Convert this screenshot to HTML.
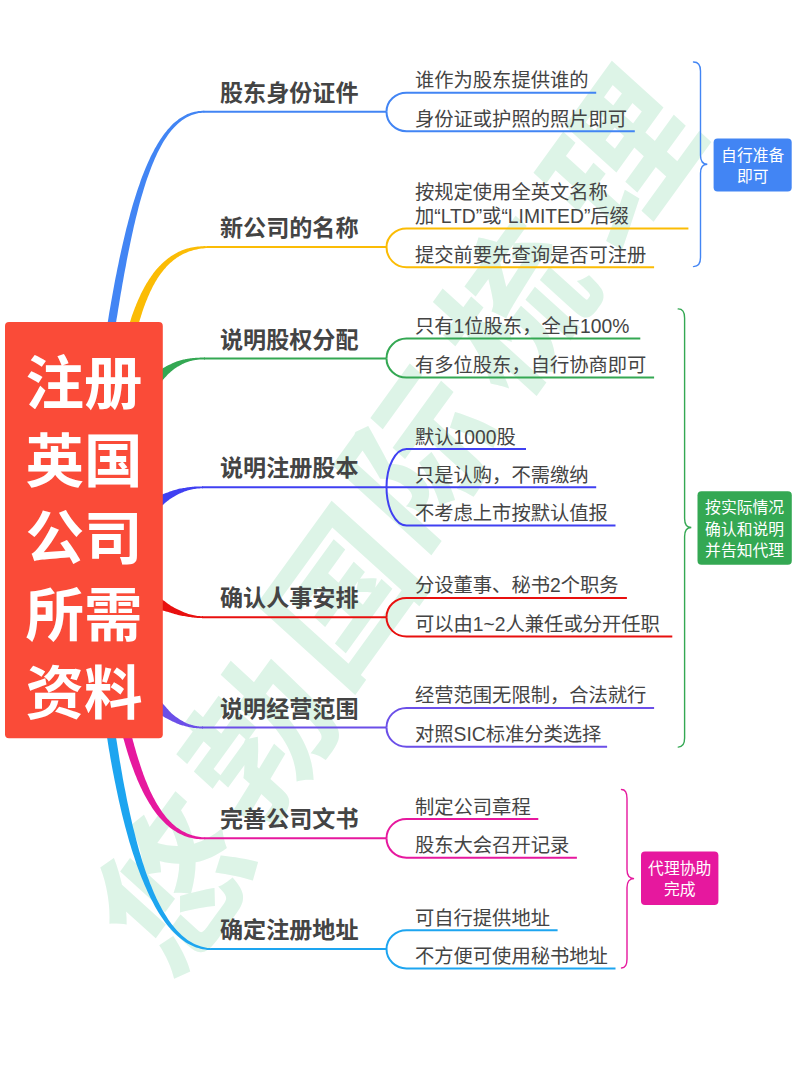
<!DOCTYPE html>
<html lang="zh-CN">
<head>
<meta charset="utf-8">
<title>注册英国公司所需资料</title>
<style>
html,body{margin:0;padding:0;background:#ffffff;}
body{width:800px;height:1069px;position:relative;overflow:hidden;font-family:"Liberation Sans","Noto Sans CJK SC",sans-serif;}
svg{position:absolute;left:0;top:0;display:block;}
.t{position:absolute;white-space:nowrap;color:#444444;font-family:"Liberation Sans","Noto Sans CJK SC",sans-serif;}
.w{color:#ffffff;}
</style>
</head>
<body>
<svg width="800" height="1069" viewBox="0 0 800 1069">
<g font-family="'Liberation Sans','Noto Sans CJK SC',sans-serif" font-size="142" font-weight="bold" text-anchor="middle" fill="#DDF4E7">
<text transform="translate(176.0 885.0) scale(1 1.12) rotate(-51)" x="0" y="52">悠</text>
<text transform="translate(260.0 739.0) scale(1 1.12) rotate(-51)" x="0" y="52">勃</text>
<text transform="translate(343.0 597.0) scale(1 1.12) rotate(-51)" x="0" y="52">国</text>
<text transform="translate(420.0 456.0) scale(1 1.12) rotate(-51)" x="0" y="52">际</text>
<text transform="translate(517.0 308.0) scale(1 1.12) rotate(-51)" x="0" y="52">梳</text>
<text transform="translate(622.0 158.0) scale(1 1.12) rotate(-51)" x="0" y="52">理</text>
</g>
<path fill="#4285F4" d="M111.7 352.0L112.5 346.4L113.3 341.0L114.1 335.5L114.9 330.2L115.7 324.8L116.5 319.6L117.4 314.4L118.2 309.2L119.1 304.1L119.9 299.1L120.7 294.1L121.6 289.2L122.4 284.3L123.3 279.5L124.1 274.7L125.0 270.0L125.9 265.4L126.7 260.8L127.6 256.2L128.5 251.8L129.4 247.4L130.3 243.0L131.2 238.8L132.1 234.5L133.0 230.4L133.9 226.3L134.9 222.3L135.8 218.3L136.8 214.4L137.8 210.6L138.7 206.8L139.7 203.1L140.7 199.5L141.7 195.9L142.8 192.4L143.8 189.0L144.9 185.6L145.9 182.3L147.0 179.1L148.1 176.0L149.2 172.9L150.3 169.9L151.4 166.9L152.6 164.1L153.8 161.3L154.9 158.6L156.1 155.9L157.3 153.3L158.6 150.8L159.8 148.4L161.1 146.1L162.3 143.8L163.6 141.6L164.9 139.5L166.3 137.5L167.6 135.5L169.0 133.6L170.4 131.8L171.8 130.1L173.2 128.4L174.6 126.9L176.1 125.4L177.6 124.0L179.0 122.7L180.6 121.4L182.1 120.3L183.7 119.2L185.2 118.2L186.9 117.2L188.5 116.4L190.1 115.7L191.8 115.0L193.5 114.4L195.2 113.9L197.0 113.5L198.8 113.1L200.6 112.9L202.4 112.7L204.3 112.6L204.3 110.8L202.3 110.8L200.4 110.9L198.5 111.1L196.6 111.4L194.7 111.7L192.9 112.2L191.0 112.8L189.2 113.4L187.4 114.1L185.7 115.0L183.9 115.9L182.2 116.9L180.5 117.9L178.8 119.1L177.2 120.4L175.5 121.7L173.9 123.1L172.3 124.6L170.7 126.2L169.2 127.9L167.7 129.6L166.2 131.4L164.7 133.3L163.2 135.3L161.7 137.4L160.3 139.5L158.9 141.7L157.5 144.0L156.1 146.4L154.7 148.8L153.4 151.4L152.0 154.0L150.7 156.6L149.4 159.4L148.1 162.2L146.9 165.1L145.6 168.0L144.4 171.0L143.2 174.1L141.9 177.3L140.7 180.5L139.6 183.9L138.4 187.2L137.2 190.7L136.1 194.2L135.0 197.8L133.8 201.4L132.7 205.1L131.6 208.9L130.5 212.8L129.5 216.7L128.4 220.7L127.4 224.7L126.3 228.8L125.3 233.0L124.3 237.2L123.3 241.5L122.3 245.8L121.3 250.3L120.3 254.7L119.3 259.3L118.4 263.9L117.4 268.5L116.5 273.2L115.5 278.0L114.6 282.8L113.7 287.7L112.8 292.7L111.9 297.7L111.0 302.7L110.1 307.9L109.2 313.0L108.4 318.3L107.5 323.5L106.6 328.9L105.7 334.2L104.9 339.7L104.0 345.2L103.1 350.7Z"/>
<path fill="#FBBC05" d="M134.4 340.0L134.9 338.0L135.4 336.1L135.8 334.2L136.3 332.3L136.8 330.4L137.3 328.5L137.9 326.6L138.4 324.8L138.9 322.9L139.5 321.1L140.0 319.3L140.6 317.5L141.1 315.7L141.7 314.0L142.2 312.2L142.8 310.5L143.4 308.8L144.0 307.1L144.6 305.4L145.2 303.7L145.9 302.1L146.5 300.5L147.2 298.9L147.8 297.3L148.5 295.7L149.2 294.2L149.9 292.6L150.6 291.1L151.3 289.7L152.0 288.2L152.7 286.7L153.5 285.3L154.3 283.9L155.0 282.6L155.8 281.2L156.6 279.9L157.4 278.6L158.3 277.3L159.1 276.0L160.0 274.8L160.9 273.6L161.7 272.4L162.7 271.2L163.6 270.1L164.5 269.0L165.5 267.9L166.4 266.8L167.4 265.8L168.4 264.8L169.4 263.8L170.5 262.8L171.5 261.9L172.6 261.0L173.7 260.1L174.8 259.3L175.9 258.4L177.0 257.6L178.2 256.9L179.4 256.1L180.6 255.4L181.8 254.8L183.1 254.1L184.3 253.5L185.6 252.9L186.9 252.4L188.3 251.8L189.6 251.3L191.0 250.9L192.4 250.4L193.8 250.0L195.3 249.7L196.8 249.4L198.3 249.1L199.8 248.8L201.3 248.6L202.9 248.4L204.5 248.2L206.1 248.1L207.8 248.0L207.8 246.2L206.1 246.2L204.4 246.1L202.8 246.2L201.1 246.2L199.5 246.4L197.9 246.5L196.3 246.7L194.7 246.9L193.2 247.2L191.7 247.5L190.2 247.8L188.7 248.2L187.2 248.6L185.7 249.1L184.3 249.5L182.9 250.1L181.5 250.6L180.1 251.2L178.7 251.8L177.4 252.5L176.1 253.2L174.7 253.9L173.5 254.7L172.2 255.5L170.9 256.3L169.7 257.2L168.5 258.1L167.3 259.0L166.1 260.0L164.9 260.9L163.7 262.0L162.6 263.0L161.5 264.1L160.4 265.2L159.3 266.3L158.2 267.5L157.2 268.6L156.1 269.8L155.1 271.1L154.1 272.3L153.1 273.6L152.2 275.0L151.2 276.3L150.3 277.7L149.3 279.0L148.4 280.4L147.5 281.9L146.6 283.3L145.8 284.8L144.9 286.3L144.1 287.8L143.2 289.4L142.4 290.9L141.6 292.5L140.8 294.1L140.1 295.7L139.3 297.4L138.6 299.1L137.8 300.7L137.1 302.4L136.4 304.1L135.7 305.9L135.0 307.6L134.3 309.4L133.6 311.2L133.0 313.0L132.3 314.8L131.7 316.6L131.1 318.5L130.5 320.4L129.9 322.2L129.3 324.1L128.7 326.0L128.2 327.9L127.6 329.9L127.1 331.8L126.5 333.8L126.0 335.7L125.4 337.7Z"/>
<path fill="#34A853" d="M148.2 400.2L149.0 398.9L149.9 397.6L150.8 396.3L151.7 395.1L152.6 393.9L153.4 392.7L154.3 391.6L155.2 390.5L155.9 389.3L156.7 388.2L157.4 387.1L158.2 386.0L159.0 385.0L159.7 383.9L160.5 382.9L161.2 382.0L162.0 381.0L162.7 380.1L163.5 379.2L164.3 378.3L165.0 377.5L165.8 376.7L166.5 375.9L167.3 375.1L168.0 374.3L168.8 373.6L169.5 372.9L170.3 372.2L171.0 371.5L171.8 370.9L172.6 370.3L173.3 369.7L174.1 369.1L174.9 368.6L175.6 368.0L176.4 367.5L177.1 367.1L177.9 366.6L178.7 366.2L179.4 365.7L180.2 365.3L180.9 364.9L181.6 364.5L182.4 364.1L183.1 363.8L183.8 363.4L184.6 363.1L185.3 362.8L186.0 362.5L186.7 362.2L187.5 362.0L188.2 361.7L188.9 361.5L189.6 361.3L190.3 361.1L191.0 360.9L191.7 360.8L192.4 360.6L193.0 360.5L193.7 360.3L194.4 360.2L195.0 360.1L195.7 360.0L196.3 359.9L197.0 359.8L197.6 359.8L198.2 359.7L198.8 359.6L199.4 359.6L200.0 359.5L200.6 359.5L201.2 359.5L201.8 359.5L202.3 359.5L202.9 359.4L203.4 359.4L204.0 359.4L204.5 359.4L205.0 359.4L205.0 357.6L204.5 357.6L204.0 357.6L203.4 357.6L202.9 357.6L202.3 357.6L201.7 357.6L201.1 357.6L200.5 357.6L199.9 357.6L199.3 357.7L198.7 357.7L198.1 357.7L197.4 357.7L196.8 357.8L196.1 357.8L195.5 357.8L194.8 357.9L194.1 358.0L193.4 358.0L192.7 358.1L192.0 358.2L191.2 358.2L190.5 358.3L189.8 358.5L189.0 358.6L188.2 358.7L187.5 358.8L186.7 359.0L185.9 359.1L185.1 359.3L184.3 359.5L183.4 359.6L182.6 359.8L181.8 360.0L180.9 360.2L180.0 360.4L179.2 360.7L178.3 361.0L177.4 361.3L176.5 361.6L175.6 361.9L174.7 362.3L173.8 362.7L172.9 363.1L172.0 363.5L171.0 363.9L170.1 364.4L169.2 364.8L168.2 365.3L167.2 365.8L166.2 366.3L165.2 366.9L164.2 367.5L163.2 368.1L162.2 368.7L161.2 369.3L160.2 370.0L159.1 370.7L158.1 371.4L157.0 372.2L156.0 373.0L154.9 373.8L153.9 374.7L152.8 375.5L151.8 376.4L150.7 377.4L149.6 378.4L148.6 379.4L147.5 380.4L146.4 381.5L145.3 382.6L144.3 383.8L143.3 385.0L142.4 386.3L141.4 387.7L140.4 389.0L139.5 390.4L138.5 391.8L137.5 393.3Z"/>
<path fill="#4040F2" d="M141.4 526.6L141.9 526.1L142.4 525.5L142.9 524.9L143.4 524.3L144.0 523.8L144.5 523.2L145.1 522.6L145.6 522.0L146.2 521.4L146.7 520.8L147.3 520.3L147.9 519.7L148.4 519.1L149.0 518.5L149.6 517.9L150.2 517.3L150.8 516.7L151.4 516.2L152.1 515.6L152.7 515.0L153.3 514.4L154.0 513.9L154.6 513.2L155.2 512.6L155.8 511.9L156.4 511.3L157.0 510.7L157.6 510.0L158.2 509.4L158.8 508.7L159.5 508.1L160.1 507.5L160.8 506.8L161.4 506.2L162.1 505.6L162.8 505.0L163.5 504.4L164.2 503.8L164.9 503.1L165.6 502.5L166.3 501.9L167.1 501.3L167.8 500.7L168.6 500.2L169.3 499.6L170.1 499.0L170.9 498.4L171.7 497.9L172.5 497.4L173.4 496.9L174.2 496.4L175.1 495.9L175.9 495.4L176.8 494.9L177.7 494.5L178.6 494.1L179.6 493.6L180.5 493.2L181.4 492.8L182.4 492.4L183.4 492.0L184.3 491.6L185.3 491.2L186.3 490.9L187.4 490.5L188.4 490.2L189.4 490.0L190.5 489.7L191.6 489.5L192.7 489.2L193.8 489.0L194.9 488.9L196.0 488.7L197.1 488.6L198.3 488.4L199.5 488.4L200.6 488.3L201.8 488.3L203.0 488.2L203.0 486.4L201.8 486.4L200.6 486.4L199.4 486.4L198.2 486.4L197.0 486.5L195.8 486.6L194.6 486.6L193.5 486.7L192.3 486.8L191.2 486.9L190.0 487.1L188.9 487.2L187.8 487.3L186.7 487.5L185.6 487.7L184.5 487.9L183.4 488.0L182.3 488.2L181.2 488.4L180.1 488.6L179.0 488.8L178.0 489.1L176.9 489.4L175.9 489.7L174.9 490.0L173.8 490.3L172.8 490.6L171.8 490.9L170.8 491.3L169.8 491.6L168.8 492.0L167.8 492.4L166.8 492.7L165.8 493.1L164.8 493.4L163.9 493.8L162.9 494.2L161.9 494.6L161.0 495.1L160.0 495.5L159.1 495.9L158.2 496.4L157.3 496.9L156.4 497.3L155.5 497.8L154.6 498.3L153.7 498.8L152.8 499.3L152.0 499.8L151.1 500.4L150.3 500.9L149.4 501.4L148.6 502.0L147.8 502.5L147.0 503.1L146.2 503.6L145.4 504.2L144.7 504.8L144.0 505.5L143.3 506.1L142.6 506.8L141.9 507.4L141.3 508.1L140.6 508.7L139.9 509.3L139.3 510.0L138.7 510.6L138.0 511.3L137.4 511.9L136.8 512.5L136.2 513.2L135.6 513.8L135.0 514.4L134.5 515.0L133.9 515.7L133.3 516.3L132.8 516.9L132.2 517.5L131.7 518.1Z"/>
<path fill="#E8100F" d="M125.9 587.2L126.3 587.7L126.7 588.1L127.1 588.6L127.5 589.1L128.0 589.5L128.5 590.0L129.0 590.5L129.5 591.0L130.0 591.5L130.6 592.0L131.2 592.6L131.8 593.1L132.4 593.6L133.1 594.2L133.7 594.7L134.4 595.3L135.1 595.8L135.8 596.4L136.6 597.0L137.3 597.6L138.1 598.1L138.9 598.7L139.7 599.3L140.5 599.9L141.4 600.5L142.2 601.1L143.1 601.7L144.0 602.3L144.9 602.9L145.8 603.6L146.8 604.1L147.8 604.6L148.9 605.1L149.9 605.6L151.0 606.1L152.1 606.5L153.2 607.0L154.3 607.5L155.4 607.9L156.5 608.4L157.7 608.8L158.8 609.2L160.0 609.7L161.1 610.1L162.3 610.4L163.5 610.8L164.7 611.1L165.9 611.5L167.2 611.8L168.4 612.1L169.6 612.4L170.8 612.8L172.0 613.2L173.2 613.5L174.4 613.9L175.6 614.2L176.8 614.6L178.0 614.9L179.2 615.2L180.4 615.4L181.6 615.7L182.8 615.9L184.1 616.1L185.3 616.3L186.5 616.6L187.7 616.8L188.9 617.0L190.1 617.1L191.3 617.3L192.5 617.5L193.6 617.6L194.8 617.7L196.0 617.8L197.2 617.9L198.4 618.0L199.5 618.1L200.7 618.1L201.8 618.1L203.0 618.1L203.0 616.3L201.9 616.2L200.8 616.2L199.6 616.1L198.5 616.0L197.4 615.9L196.3 615.7L195.1 615.5L194.0 615.3L192.9 615.1L191.7 614.8L190.6 614.5L189.5 614.2L188.4 613.9L187.2 613.5L186.1 613.1L185.0 612.7L183.9 612.3L182.8 611.8L181.7 611.3L180.7 610.8L179.6 610.3L178.5 609.8L177.4 609.3L176.3 608.8L175.3 608.3L174.2 607.7L173.2 607.1L172.1 606.6L171.1 606.0L170.1 605.3L169.2 604.6L168.2 603.9L167.3 603.2L166.3 602.4L165.4 601.7L164.5 601.0L163.5 600.4L162.6 599.7L161.7 599.0L160.8 598.3L159.9 597.6L159.0 597.0L158.2 596.3L157.3 595.6L156.5 594.9L155.7 594.2L154.8 593.5L154.0 592.9L153.2 592.3L152.4 591.7L151.5 591.1L150.7 590.6L149.9 590.0L149.1 589.5L148.4 588.9L147.6 588.4L146.9 587.9L146.2 587.3L145.5 586.8L144.8 586.3L144.2 585.8L143.5 585.3L142.9 584.8L142.3 584.3L141.7 583.8L141.2 583.3L140.6 582.9L140.1 582.4L139.7 582.0L139.2 581.6L138.8 581.2L138.4 580.8L138.0 580.4L137.6 580.1L137.3 579.7L137.0 579.4L136.8 579.2L136.5 578.9L136.3 578.7Z"/>
<path fill="#6B4FE8" d="M139.2 695.4L140.2 696.7L141.2 698.0L142.3 699.3L143.3 700.5L144.4 701.7L145.4 702.9L146.6 703.9L147.7 704.9L148.8 705.9L149.9 706.9L151.0 707.8L152.1 708.8L153.2 709.6L154.3 710.5L155.4 711.3L156.5 712.1L157.5 712.9L158.6 713.6L159.6 714.4L160.7 715.0L161.7 715.7L162.8 716.3L163.8 716.8L164.8 717.4L165.9 717.9L166.9 718.5L167.9 718.9L168.8 719.5L169.7 720.0L170.7 720.5L171.6 720.9L172.5 721.4L173.4 721.8L174.2 722.2L175.1 722.6L176.0 723.0L176.8 723.4L177.7 723.8L178.5 724.1L179.3 724.4L180.1 724.7L180.9 724.9L181.7 725.2L182.5 725.4L183.3 725.6L184.1 725.8L184.8 726.0L185.5 726.2L186.3 726.4L187.0 726.6L187.7 726.8L188.4 726.9L189.1 727.1L189.7 727.2L190.4 727.3L191.0 727.5L191.7 727.6L192.3 727.7L192.9 727.8L193.5 727.9L194.1 727.9L194.7 728.0L195.3 728.1L195.8 728.1L196.4 728.2L196.9 728.2L197.5 728.3L198.0 728.3L198.5 728.3L199.0 728.3L199.5 728.4L200.0 728.4L200.4 728.4L200.9 728.4L201.3 728.4L201.8 728.4L202.2 728.4L202.6 728.4L203.0 728.4L203.0 726.6L202.6 726.6L202.2 726.6L201.8 726.5L201.4 726.5L201.0 726.5L200.5 726.5L200.1 726.5L199.6 726.4L199.1 726.4L198.7 726.3L198.2 726.3L197.7 726.2L197.2 726.2L196.7 726.1L196.1 726.0L195.6 725.9L195.1 725.8L194.5 725.7L193.9 725.6L193.4 725.4L192.8 725.3L192.2 725.1L191.6 725.0L191.0 724.8L190.4 724.6L189.8 724.4L189.2 724.2L188.5 723.9L187.9 723.7L187.3 723.4L186.6 723.2L185.9 722.9L185.3 722.6L184.6 722.2L184.0 721.9L183.3 721.5L182.6 721.1L181.9 720.7L181.2 720.3L180.5 719.9L179.8 719.4L179.1 719.0L178.4 718.5L177.7 718.1L176.9 717.6L176.2 717.0L175.4 716.5L174.7 715.9L174.0 715.3L173.2 714.7L172.4 714.1L171.7 713.5L171.0 712.7L170.3 712.0L169.5 711.2L168.8 710.4L168.1 709.6L167.3 708.8L166.6 707.9L165.9 707.1L165.1 706.2L164.3 705.3L163.5 704.4L162.7 703.5L161.9 702.6L161.1 701.6L160.3 700.6L159.5 699.6L158.7 698.5L157.9 697.4L157.1 696.3L156.3 695.2L155.5 694.1L154.6 692.9L153.6 691.8L152.7 690.7L151.7 689.5L150.8 688.3L149.8 687.1Z"/>
<path fill="#E6189E" d="M118.8 720.8L119.4 723.3L120.1 725.9L120.7 728.4L121.4 730.9L122.1 733.4L122.7 735.9L123.4 738.4L124.1 740.8L124.8 743.3L125.5 745.7L126.2 748.1L126.9 750.4L127.6 752.8L128.3 755.1L129.1 757.4L129.8 759.7L130.6 762.0L131.4 764.2L132.2 766.4L133.0 768.6L133.8 770.8L134.6 772.9L135.4 775.0L136.3 777.1L137.1 779.2L138.0 781.2L138.9 783.3L139.8 785.2L140.7 787.2L141.6 789.1L142.5 791.0L143.5 792.9L144.4 794.7L145.4 796.6L146.4 798.3L147.4 800.1L148.4 801.8L149.4 803.5L150.5 805.1L151.5 806.8L152.6 808.4L153.7 809.9L154.8 811.4L155.9 812.9L157.0 814.4L158.1 815.8L159.3 817.2L160.5 818.5L161.7 819.8L162.9 821.1L164.1 822.3L165.3 823.5L166.6 824.7L167.9 825.8L169.2 826.9L170.5 827.9L171.8 828.9L173.1 829.8L174.5 830.7L175.9 831.6L177.2 832.4L178.7 833.2L180.1 833.9L181.5 834.6L183.0 835.3L184.5 835.9L186.0 836.4L187.5 836.9L189.0 837.4L190.5 837.8L192.1 838.1L193.7 838.4L195.3 838.7L196.9 838.9L198.5 839.1L200.2 839.2L201.8 839.2L203.5 839.2L205.2 839.2L205.2 837.4L203.6 837.3L201.9 837.2L200.4 837.0L198.8 836.8L197.3 836.5L195.7 836.2L194.2 835.8L192.8 835.4L191.3 835.0L189.9 834.5L188.5 833.9L187.1 833.4L185.8 832.8L184.4 832.1L183.1 831.4L181.8 830.7L180.6 829.9L179.3 829.1L178.1 828.2L176.8 827.4L175.6 826.4L174.5 825.5L173.3 824.5L172.1 823.4L171.0 822.3L169.9 821.2L168.8 820.1L167.7 818.9L166.6 817.7L165.6 816.4L164.5 815.1L163.5 813.8L162.5 812.4L161.5 811.0L160.5 809.6L159.5 808.1L158.6 806.6L157.6 805.1L156.7 803.5L155.8 801.9L154.9 800.3L154.0 798.6L153.1 797.0L152.3 795.2L151.4 793.5L150.5 791.7L149.7 789.9L148.9 788.0L148.1 786.2L147.3 784.3L146.5 782.3L145.7 780.4L144.9 778.4L144.2 776.4L143.4 774.4L142.7 772.3L141.9 770.2L141.2 768.1L140.5 766.0L139.8 763.8L139.1 761.6L138.4 759.4L137.7 757.2L137.0 754.9L136.3 752.7L135.7 750.4L135.0 748.0L134.3 745.7L133.7 743.3L133.0 741.0L132.4 738.6L131.7 736.2L131.1 733.7L130.5 731.2L129.9 728.8L129.3 726.3L128.7 723.8L128.1 721.2L127.5 718.7Z"/>
<path fill="#1DA5F0" d="M102.7 709.5L103.4 713.9L104.0 718.3L104.7 722.7L105.4 727.1L106.1 731.5L106.8 735.9L107.5 740.3L108.2 744.8L108.9 749.2L109.7 753.6L110.4 758.0L111.2 762.3L112.0 766.7L112.8 771.1L113.7 775.4L114.5 779.8L115.4 784.1L116.3 788.4L117.2 792.7L118.1 796.9L119.0 801.2L120.0 805.4L120.9 809.6L121.9 813.7L122.9 817.8L124.0 821.9L125.0 826.0L126.1 830.0L127.2 834.0L128.3 838.0L129.4 841.9L130.6 845.7L131.7 849.6L132.9 853.3L134.2 857.1L135.4 860.8L136.6 864.4L137.9 868.0L139.2 871.5L140.5 875.0L141.9 878.4L143.3 881.8L144.6 885.1L146.1 888.3L147.5 891.5L148.9 894.6L150.4 897.7L151.9 900.6L153.5 903.6L155.0 906.4L156.6 909.2L158.2 911.9L159.8 914.5L161.5 917.0L163.2 919.5L164.9 921.9L166.6 924.2L168.4 926.4L170.2 928.5L172.0 930.5L173.9 932.5L175.7 934.3L177.6 936.1L179.6 937.8L181.5 939.3L183.5 940.8L185.5 942.2L187.6 943.4L189.7 944.6L191.8 945.6L193.9 946.6L196.1 947.4L198.3 948.1L200.5 948.7L202.7 949.2L205.0 949.6L207.3 949.9L209.6 950.0L212.0 950.0L212.0 948.2L209.7 948.1L207.5 947.9L205.3 947.5L203.2 947.1L201.1 946.5L199.0 945.8L197.0 945.1L195.0 944.2L193.0 943.2L191.0 942.1L189.1 941.0L187.2 939.7L185.4 938.3L183.5 936.8L181.7 935.3L180.0 933.6L178.2 931.8L176.5 930.0L174.8 928.1L173.2 926.0L171.5 923.9L169.9 921.7L168.3 919.4L166.8 917.1L165.2 914.6L163.7 912.1L162.2 909.5L160.8 906.8L159.3 904.1L157.9 901.3L156.5 898.4L155.2 895.4L153.8 892.4L152.5 889.3L151.2 886.1L149.9 882.9L148.7 879.6L147.4 876.3L146.2 872.9L145.0 869.4L143.9 865.9L142.7 862.4L141.6 858.7L140.5 855.1L139.4 851.4L138.3 847.6L137.3 843.8L136.3 840.0L135.3 836.1L134.3 832.1L133.3 828.2L132.3 824.2L131.4 820.1L130.5 816.1L129.6 812.0L128.7 807.8L127.8 803.7L126.9 799.5L126.1 795.3L125.3 791.0L124.4 786.8L123.6 782.5L122.8 778.2L122.1 773.9L121.3 769.5L120.6 765.2L119.8 760.9L119.1 756.5L118.4 752.1L117.7 747.7L117.0 743.3L116.3 739.0L115.6 734.6L115.0 730.2L114.3 725.8L113.7 721.4L113.1 717.0L112.5 712.6L111.9 708.2Z"/>
<path d="M203.3 111.7H386.5" stroke="#4285F4" stroke-width="2" fill="none"/>
<path d="M386.5 111.7C386.5 101.21 395.45 92.7 406.5 92.7H596.2" stroke="#4285F4" stroke-width="2" fill="none"/>
<path d="M386.5 111.7C386.5 122.53 395.45 131.3 406.5 131.3H634.8" stroke="#4285F4" stroke-width="2" fill="none"/>
<path d="M206.8 247.1H386.5" stroke="#FBBC05" stroke-width="2" fill="none"/>
<path d="M386.5 247.1C386.5 236.83 395.45 228.5 406.5 228.5H688.4" stroke="#FBBC05" stroke-width="2" fill="none"/>
<path d="M386.5 247.1C386.5 258.26 395.45 267.3 406.5 267.3H654.1" stroke="#FBBC05" stroke-width="2" fill="none"/>
<path d="M204.0 358.5H386.5" stroke="#34A853" stroke-width="2" fill="none"/>
<path d="M386.5 358.5C386.5 347.51 395.45 338.6 406.5 338.6H640.3" stroke="#34A853" stroke-width="2" fill="none"/>
<path d="M386.5 358.5C386.5 369.05 395.45 377.6 406.5 377.6H654.1" stroke="#34A853" stroke-width="2" fill="none"/>
<path d="M202.0 487.3H386.5" stroke="#4040F2" stroke-width="2" fill="none"/>
<path d="M386.5 487.3C386.5 466.15 395.45 449.0 406.5 449.0H526.0" stroke="#4040F2" stroke-width="2" fill="none"/>
<path d="M386.5 487.3H596.2" stroke="#4040F2" stroke-width="2" fill="none"/>
<path d="M386.5 487.3C386.5 508.40 395.45 525.5 406.5 525.5H615.5" stroke="#4040F2" stroke-width="2" fill="none"/>
<path d="M202.0 617.2H386.5" stroke="#E8100F" stroke-width="2" fill="none"/>
<path d="M386.5 617.2C386.5 606.54 395.45 597.9 406.5 597.9H626.9" stroke="#E8100F" stroke-width="2" fill="none"/>
<path d="M386.5 617.2C386.5 627.86 395.45 636.5 406.5 636.5H672.3" stroke="#E8100F" stroke-width="2" fill="none"/>
<path d="M202.0 727.5H386.5" stroke="#6B4FE8" stroke-width="2" fill="none"/>
<path d="M386.5 727.5C386.5 716.67 395.45 707.9 406.5 707.9H654.1" stroke="#6B4FE8" stroke-width="2" fill="none"/>
<path d="M386.5 727.5C386.5 738.16 395.45 746.8 406.5 746.8H607.1" stroke="#6B4FE8" stroke-width="2" fill="none"/>
<path d="M204.2 838.3H386.5" stroke="#E6189E" stroke-width="2" fill="none"/>
<path d="M386.5 838.3C386.5 827.64 395.45 819.0 406.5 819.0H538.3" stroke="#E6189E" stroke-width="2" fill="none"/>
<path d="M386.5 838.3C386.5 849.01 395.45 857.7 406.5 857.7H576.9" stroke="#E6189E" stroke-width="2" fill="none"/>
<path d="M211.0 949.1H386.5" stroke="#1DA5F0" stroke-width="2" fill="none"/>
<path d="M386.5 949.1C386.5 938.66 395.45 930.2 406.5 930.2H557.6" stroke="#1DA5F0" stroke-width="2" fill="none"/>
<path d="M386.5 949.1C386.5 959.76 395.45 968.4 406.5 968.4H615.5" stroke="#1DA5F0" stroke-width="2" fill="none"/>
<rect x="5" y="322" width="157.8" height="416.2" rx="4" fill="#FA4B38"/>
<path d="M693.5 62Q700.5 62 700.5 71V155.3Q700.5 164.3 707.3 164.3Q700.5 164.3 700.5 173.3V257.6Q700.5 266.6 693.5 266.6" stroke="#4285F4" stroke-width="1.4" fill="none" stroke-linecap="round"/>
<rect x="713.6" y="138.5" width="78.1" height="53.1" rx="4" fill="#4285F4"/>
<path d="M678.2 308.9Q684.6 308.9 684.6 317.9V518.5Q684.6 527.5 691.3 527.5Q684.6 527.5 684.6 536.5V738.1Q684.6 747.1 678.2 747.1" stroke="#34A853" stroke-width="1.4" fill="none" stroke-linecap="round"/>
<rect x="697.5" y="491.2" width="94.3" height="73.6" rx="4" fill="#34A853"/>
<path d="M621.5 789.5Q627 789.5 627 798.5V869.6Q627 878.6 634.1 878.6Q627 878.6 627 887.6V959Q627 968 621.5 968" stroke="#E6189E" stroke-width="1.4" fill="none" stroke-linecap="round"/>
<rect x="641" y="851.6" width="77.4" height="53.4" rx="4" fill="#E6189E"/>
</svg>
<div class="t" style="left:220.0px;top:79.8px;width:140.6px;height:27.7px;font-size:23.1px;line-height:27.7px;font-weight:bold">股东身份证件</div>
<div class="t" style="left:415.0px;top:69.2px;width:175.7px;height:23.2px;font-size:19.3px;line-height:23.2px;font-weight:normal">谁作为股东提供谁的</div>
<div class="t" style="left:415.0px;top:107.8px;width:214.3px;height:23.2px;font-size:19.3px;line-height:23.2px;font-weight:normal">身份证或护照的照片即可</div>
<div class="t" style="left:220.0px;top:215.2px;width:140.6px;height:27.7px;font-size:23.1px;line-height:27.7px;font-weight:bold">新公司的名称</div>
<div class="t" style="left:415.0px;top:181.0px;width:195.0px;height:23.2px;font-size:19.3px;line-height:23.2px;font-weight:normal">按规定使用全英文名称</div>
<div class="t" style="left:415.0px;top:205.0px;width:267.9px;height:23.2px;font-size:19.3px;line-height:23.2px;font-weight:normal">加“LTD”或“LIMITED”后缀</div>
<div class="t" style="left:415.0px;top:243.8px;width:233.6px;height:23.2px;font-size:19.3px;line-height:23.2px;font-weight:normal">提交前要先查询是否可注册</div>
<div class="t" style="left:220.0px;top:326.6px;width:140.6px;height:27.7px;font-size:23.1px;line-height:27.7px;font-weight:bold">说明股权分配</div>
<div class="t" style="left:415.0px;top:315.1px;width:219.8px;height:23.2px;font-size:19.3px;line-height:23.2px;font-weight:normal">只有1位股东，全占100%</div>
<div class="t" style="left:415.0px;top:354.1px;width:233.6px;height:23.2px;font-size:19.3px;line-height:23.2px;font-weight:normal">有多位股东，自行协商即可</div>
<div class="t" style="left:220.0px;top:455.4px;width:140.6px;height:27.7px;font-size:23.1px;line-height:27.7px;font-weight:bold">说明注册股本</div>
<div class="t" style="left:415.0px;top:425.5px;width:105.5px;height:23.2px;font-size:19.3px;line-height:23.2px;font-weight:normal">默认1000股</div>
<div class="t" style="left:415.0px;top:463.8px;width:175.7px;height:23.2px;font-size:19.3px;line-height:23.2px;font-weight:normal">只是认购，不需缴纳</div>
<div class="t" style="left:415.0px;top:502.0px;width:195.0px;height:23.2px;font-size:19.3px;line-height:23.2px;font-weight:normal">不考虑上市按默认值报</div>
<div class="t" style="left:220.0px;top:585.3px;width:140.6px;height:27.7px;font-size:23.1px;line-height:27.7px;font-weight:bold">确认人事安排</div>
<div class="t" style="left:415.0px;top:574.4px;width:206.4px;height:23.2px;font-size:19.3px;line-height:23.2px;font-weight:normal">分设董事、秘书2个职务</div>
<div class="t" style="left:415.0px;top:613.0px;width:251.8px;height:23.2px;font-size:19.3px;line-height:23.2px;font-weight:normal">可以由1~2人兼任或分开任职</div>
<div class="t" style="left:220.0px;top:695.6px;width:140.6px;height:27.7px;font-size:23.1px;line-height:27.7px;font-weight:bold">说明经营范围</div>
<div class="t" style="left:415.0px;top:684.4px;width:233.6px;height:23.2px;font-size:19.3px;line-height:23.2px;font-weight:normal">经营范围无限制，合法就行</div>
<div class="t" style="left:415.0px;top:723.3px;width:186.6px;height:23.2px;font-size:19.3px;line-height:23.2px;font-weight:normal">对照SIC标准分类选择</div>
<div class="t" style="left:220.0px;top:806.4px;width:140.6px;height:27.7px;font-size:23.1px;line-height:27.7px;font-weight:bold">完善公司文书</div>
<div class="t" style="left:415.0px;top:795.5px;width:117.8px;height:23.2px;font-size:19.3px;line-height:23.2px;font-weight:normal">制定公司章程</div>
<div class="t" style="left:415.0px;top:834.2px;width:156.4px;height:23.2px;font-size:19.3px;line-height:23.2px;font-weight:normal">股东大会召开记录</div>
<div class="t" style="left:220.0px;top:917.2px;width:140.6px;height:27.7px;font-size:23.1px;line-height:27.7px;font-weight:bold">确定注册地址</div>
<div class="t" style="left:415.0px;top:906.7px;width:137.1px;height:23.2px;font-size:19.3px;line-height:23.2px;font-weight:normal">可自行提供地址</div>
<div class="t" style="left:415.0px;top:944.9px;width:195.0px;height:23.2px;font-size:19.3px;line-height:23.2px;font-weight:normal">不方便可使用秘书地址</div>
<div class="t w" style="left:721.1px;top:146.0px;width:65.2px;height:19.0px;font-size:15.8px;line-height:19.0px;font-weight:normal">自行准备</div>
<div class="t w" style="left:736.9px;top:167.1px;width:33.6px;height:19.0px;font-size:15.8px;line-height:19.0px;font-weight:normal">即可</div>
<div class="t w" style="left:705.1px;top:498.4px;width:81.0px;height:19.0px;font-size:15.8px;line-height:19.0px;font-weight:normal">按实际情况</div>
<div class="t w" style="left:705.1px;top:519.5px;width:81.0px;height:19.0px;font-size:15.8px;line-height:19.0px;font-weight:normal">确认和说明</div>
<div class="t w" style="left:705.1px;top:540.6px;width:81.0px;height:19.0px;font-size:15.8px;line-height:19.0px;font-weight:normal">并告知代理</div>
<div class="t w" style="left:648.1px;top:859.3px;width:65.2px;height:19.0px;font-size:15.8px;line-height:19.0px;font-weight:normal">代理协助</div>
<div class="t w" style="left:663.9px;top:880.4px;width:33.6px;height:19.0px;font-size:15.8px;line-height:19.0px;font-weight:normal">完成</div>
<div class="t w" style="left:25.4px;top:349.0px;width:119.0px;height:70.2px;font-size:58.5px;line-height:70.2px;font-weight:bold">注册</div>
<div class="t w" style="left:25.4px;top:426.8px;width:119.0px;height:70.2px;font-size:58.5px;line-height:70.2px;font-weight:bold">英国</div>
<div class="t w" style="left:25.4px;top:503.7px;width:119.0px;height:70.2px;font-size:58.5px;line-height:70.2px;font-weight:bold">公司</div>
<div class="t w" style="left:25.4px;top:581.1px;width:119.0px;height:70.2px;font-size:58.5px;line-height:70.2px;font-weight:bold">所需</div>
<div class="t w" style="left:25.4px;top:659.1px;width:119.0px;height:70.2px;font-size:58.5px;line-height:70.2px;font-weight:bold">资料</div>
</body>
</html>
